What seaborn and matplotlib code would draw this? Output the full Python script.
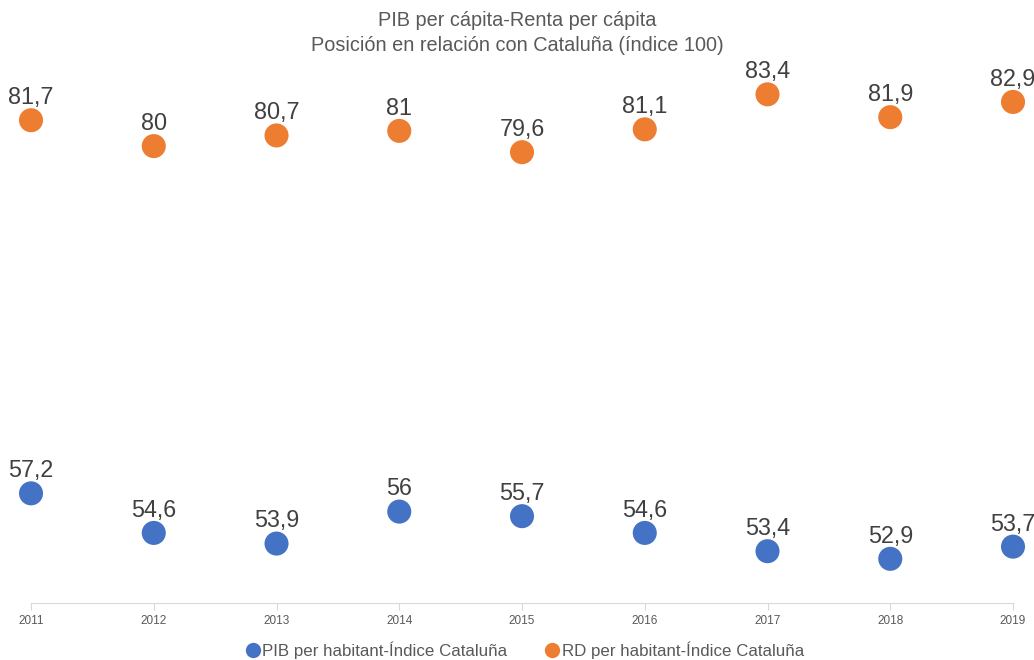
import matplotlib.pyplot as plt
import seaborn as sbn
import pandas as pd

years = [2011, 2012, 2013, 2014, 2015, 2016, 2017, 2018, 2019]
pib_values = [57.2, 54.6, 53.9, 56.0, 55.7, 54.6, 53.4, 52.9, 53.7]
rd_values = [81.7, 80.0, 80.7, 81.0, 79.6, 81.1, 83.4, 81.9, 82.9]
series_names = ['PIB per habitant-Índice Cataluña', 'RD per habitant-Índice Cataluña']
title = 'PIB per cápita-Renta per cápita\nPosición en relación con Cataluña (índice 100)'

colors = ['#4472C4', '#ED7D31']

df = pd.DataFrame({
    'year': years * 2,
    'value': pib_values + rd_values,
    'serie': [series_names[0]] * len(years) + [series_names[1]] * len(years),
})

sbn.set_style('white')
plt.rcParams['font.family'] = ['Liberation Sans', 'DejaVu Sans']

fig = plt.figure(figsize=(10.34, 6.6), dpi=100)
ax = fig.add_axes([0.030, 0.0864, 0.9497, 0.8076])

sbn.scatterplot(data=df, x='year', y='value', hue='serie', palette=colors,
                s=300, edgecolor='none', ax=ax, legend=False, clip_on=False)


def fmt(v):
    if float(v).is_integer():
        return str(int(v))
    return str(v).replace('.', ',')


for vals in (pib_values, rd_values):
    for x, y in zip(years, vals):
        ax.annotate(fmt(y), (x, y), xytext=(0, 8), textcoords='offset points',
                    ha='center', va='bottom', fontsize=16.8, color='#404040',
                    annotation_clip=False)

ax.set_xlim(2011, 2019)
ax.set_ylim(50, 85)
ax.set_xticks(years)
ax.set_xticklabels([str(y) for y in years], fontsize=8.5, color='#595959')
ax.set_yticks([])
ax.set_xlabel('')
ax.set_ylabel('')
for side in ['top', 'right', 'left']:
    ax.spines[side].set_visible(False)
ax.spines['bottom'].set_color('#D9D9D9')
ax.tick_params(axis='x', length=5, color='#D9D9D9', pad=4, bottom=True)

fig.text(0.5, 0.984, title, ha='center', va='top', fontsize=14.3,
         color='#595959', linespacing=1.45)

handles = [plt.Line2D([], [], marker='o', linestyle='', markersize=11,
                      markerfacecolor=c, markeredgecolor='none') for c in colors]
fig.legend(handles, series_names, loc='center', bbox_to_anchor=(0.507, 0.015),
           ncol=2, frameon=False, fontsize=12.2, handletextpad=0.05,
           columnspacing=2.15, labelcolor='#595959', handlelength=1.0)

fig.savefig('out.png', dpi=100)
